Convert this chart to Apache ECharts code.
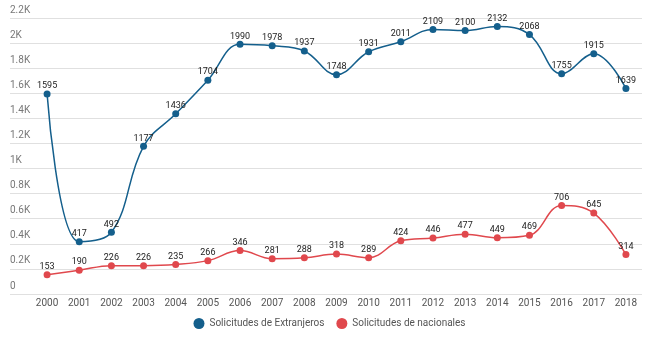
<!DOCTYPE html>
<html>
<head>
<meta charset="utf-8">
<script src="https://cdn.jsdelivr.net/npm/echarts@6/dist/echarts.min.js"></script>
<style>
  html, body { margin: 0; padding: 0; background: #fff; }
  #chart { width: 659px; height: 339px; }
</style>
</head>
<body>
<div id="chart"></div>
<script>
var years = ['2000','2001','2002','2003','2004','2005','2006','2007','2008','2009','2010','2011','2012','2013','2014','2015','2016','2017','2018'];
var extranjeros = [1595, 417, 492, 1177, 1436, 1704, 1990, 1978, 1937, 1748, 1931, 2011, 2109, 2100, 2132, 2068, 1755, 1915, 1639];
var nacionales = [153, 190, 226, 226, 235, 266, 346, 281, 288, 318, 289, 424, 446, 477, 449, 469, 706, 645, 314];
var seriesNames = ['Solicitudes de Extranjeros', 'Solicitudes de nacionales'];

var blue = '#145f8c';
var red = '#e0484d';
var font = 'Roboto, "Noto Sans", sans-serif';

var myChart = echarts.init(document.getElementById('chart'));

function kFormat(v) {
    if (v === 0) return '0';
    return (Math.round(v / 100) / 10) + 'K';
}

var labelStyle = {
    show: true,
    position: 'top',
    distance: 0,
    color: '#222',
    fontSize: 9,
    fontFamily: font
};

var option = {
    animation: false,
    color: [blue, red],
    legend: {
        data: seriesNames,
        bottom: 5,
        left: 'center',
        icon: 'circle',
        itemWidth: 11,
        itemHeight: 11,
        itemGap: 12,
        textStyle: { color: '#555', fontSize: 10, fontFamily: font }
    },
    grid: [
        // background grid with split lines and y labels
        { left: 10, right: 17, top: 18, bottom: 45 },
        // data grid
        { left: 31, right: 17, top: 18, bottom: 45 }
    ],
    xAxis: [
        { type: 'category', gridIndex: 0, data: years, show: false },
        {
            type: 'category',
            gridIndex: 1,
            data: years,
            boundaryGap: true,
            axisLine: { show: false },
            axisTick: { show: false },
            axisLabel: { color: '#555', fontSize: 10, fontFamily: font, margin: 4 }
        }
    ],
    yAxis: [
        {
            type: 'value',
            gridIndex: 0,
            min: 0,
            max: 2200,
            interval: 200,
            axisLine: { show: false },
            axisTick: { show: false },
            splitLine: { lineStyle: { color: '#e0e0e0', width: 1 } },
            axisLabel: {
                inside: true,
                margin: 0,
                verticalAlign: 'bottom',
                padding: [0, 0, 3, 0],
                color: '#777',
                fontSize: 10,
                fontFamily: font,
                formatter: kFormat
            }
        },
        { type: 'value', gridIndex: 1, min: 0, max: 2200, interval: 200, show: false, splitLine: { show: false } }
    ],
    series: [
        {
            name: seriesNames[0],
            type: 'line',
            xAxisIndex: 1,
            yAxisIndex: 1,
            data: extranjeros,
            smooth: 0.4,
            symbol: 'circle',
            symbolSize: 7,
            lineStyle: { width: 1.5, color: blue },
            itemStyle: { color: blue },
            label: labelStyle
        },
        {
            name: seriesNames[1],
            type: 'line',
            xAxisIndex: 1,
            yAxisIndex: 1,
            data: nacionales,
            smooth: 0.4,
            symbol: 'circle',
            symbolSize: 7,
            lineStyle: { width: 1.5, color: red },
            itemStyle: { color: red },
            label: labelStyle
        }
    ]
};
myChart.setOption(option);
</script>
</body>
</html>
